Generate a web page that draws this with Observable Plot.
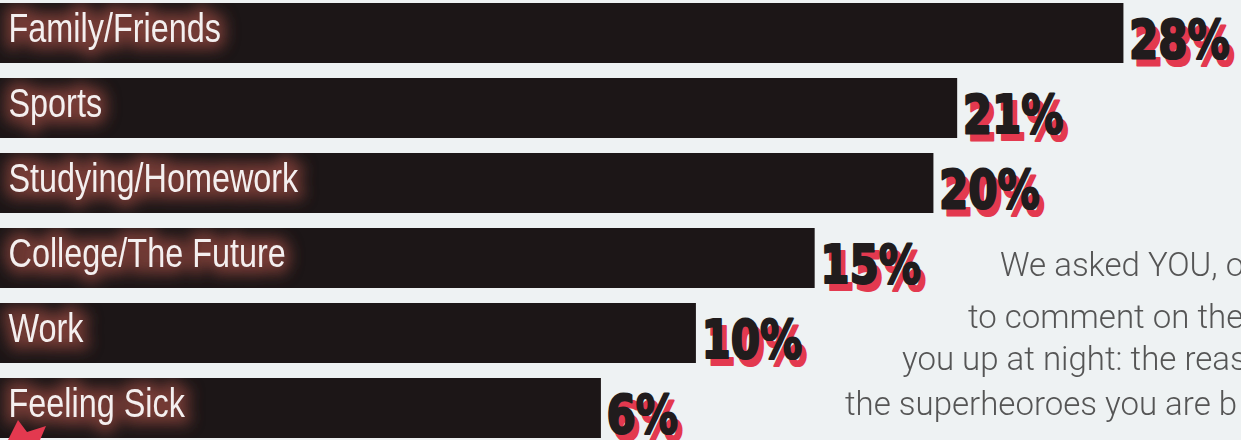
<!DOCTYPE html>
<html><head><meta charset="utf-8">
<script src="https://cdn.jsdelivr.net/npm/d3@7"></script>
<script src="https://cdn.jsdelivr.net/npm/@observablehq/plot@0.6"></script>
<style>
html,body{margin:0;padding:0;background:#eef2f3;overflow:hidden;}
#wrap{position:relative;width:1241px;height:440px;overflow:hidden;background:#eef2f3;}
#chart svg{display:block;}
#overlay{position:absolute;left:0;top:0;pointer-events:none;}
</style></head><body>
<div id="wrap"><div id="chart"></div>
<svg id="overlay" width="1241" height="440"></svg>
</div>
<script>
// Data
const categories = ["Family/Friends", "Sports", "Studying/Homework", "College/The Future", "Work", "Feeling Sick"];
const percents = [28, 21, 20, 15, 10, 6];
const noteLines = ["We asked YOU, o", "to comment on the", "you up at night: the reas", "the superheoroes you are b"];

const data = categories.map((c, i) => ({category: c, value: percents[i], label: percents[i] + "%"}));

const xBase = -19.3;
const BAR = "#1c1617", RED = "#e3394f", INK = "#211c1d";
const labelFont = "'Liberation Sans', Arial, sans-serif";
const pctFont = "'DejaVu Sans', sans-serif";

const chart = Plot.plot({
  width: 1241, height: 440,
  marginTop: 0, marginRight: 0, marginBottom: 0, marginLeft: 0,
  style: {background: "transparent", overflow: "visible"},
  x: {domain: [xBase, 32.95], axis: null},
  y: {domain: categories, range: [-4.8, 446.8], paddingInner: 0.195, paddingOuter: 0.1, axis: null},
  marks: [
    Plot.barX(data, {x1: xBase, x2: "value", y: "category", fill: BAR}),
    Plot.text(data, {y: "category", text: "category", frameAnchor: "left", textAnchor: "start", dx: 8, dy: -5,
      fontSize: 41, fontFamily: labelFont, fill: "#7d3f38", stroke: "#7d3f38", strokeWidth: 16, fillOpacity: 0.8, strokeOpacity: 0.8}),
    Plot.text(data, {y: "category", text: "category", frameAnchor: "left", textAnchor: "start", dx: 8, dy: -5,
      fontSize: 41, fontFamily: labelFont, fill: "#f4efef"}),
    Plot.text(data, {x: "value", y: "category", text: "label", textAnchor: "start", dx: 10, dy: 14,
      fontSize: 54, fontFamily: pctFont, fontWeight: 900, fill: RED, stroke: RED, strokeWidth: 2.2}),
    Plot.text(data, {x: "value", y: "category", text: "label", textAnchor: "start", dx: 5, dy: 7,
      fontSize: 54, fontFamily: pctFont, fontWeight: 900, fill: INK, stroke: INK, strokeWidth: 2.2})
  ]
});
document.getElementById("chart").appendChild(chart);

// mark groups in order: bars, glow, labels, red %, black %
const groups = Array.from(chart.children).filter(n => n.tagName.toLowerCase() === "g");
const [gBar, gGlow, gCat, gRed, gInk] = groups;

const NS = "http://www.w3.org/2000/svg";
const defs = document.createElementNS(NS, "defs");
// glow filter behind the category labels
const filt = document.createElementNS(NS, "filter");
filt.setAttribute("id", "labelGlow");
filt.setAttribute("x", "-20%"); filt.setAttribute("y", "-60%");
filt.setAttribute("width", "140%"); filt.setAttribute("height", "220%");
const blur = document.createElementNS(NS, "feGaussianBlur");
blur.setAttribute("stdDeviation", "7");
filt.appendChild(blur); defs.appendChild(filt);
// clip the glow to the bars themselves (copies of the bar shapes Plot drew)
const clip = document.createElementNS(NS, "clipPath");
clip.setAttribute("id", "barClip");
if (gBar) {
  const t = gBar.getAttribute("transform");
  gBar.querySelectorAll("rect").forEach(r => {
    const c = r.cloneNode(false);
    if (t) c.setAttribute("transform", t);
    clip.appendChild(c);
  });
}
defs.appendChild(clip);
chart.insertBefore(defs, chart.firstChild);
if (gGlow) {
  const wrapG = document.createElementNS(NS, "g");
  wrapG.setAttribute("clip-path", "url(#barClip)");
  chart.insertBefore(wrapG, gGlow);
  wrapG.appendChild(gGlow);
  gGlow.setAttribute("filter", "url(#labelGlow)");
}

// condensed look: squeeze glyphs horizontally
function squeeze(g, k) {
  if (!g) return;
  g.querySelectorAll("text").forEach(t => {
    const w = t.getComputedTextLength();
    t.setAttribute("textLength", (w * k).toFixed(1));
    t.setAttribute("lengthAdjust", "spacingAndGlyphs");
  });
}
squeeze(gGlow, 0.79);
squeeze(gCat, 0.79);
squeeze(gRed, 0.78);
squeeze(gInk, 0.78);

// Annotation text and decoration (not data)
const ov = d3.select("#overlay");
const notePos = [[1000, 276], [968, 328], [902, 370], [845, 415]];
ov.selectAll("text.note").data(noteLines).join("text")
  .attr("class", "note")
  .attr("x", (d, i) => notePos[i][0]).attr("y", (d, i) => notePos[i][1])
  .attr("font-family", "Roboto, sans-serif").attr("font-weight", 300)
  .attr("font-size", 33).attr("fill", "#555")
  .text(d => d);
ov.append("polygon").attr("points", "8,440 18,420 27,432 46,426 40,440").attr("fill", RED);
</script>
</body></html>
